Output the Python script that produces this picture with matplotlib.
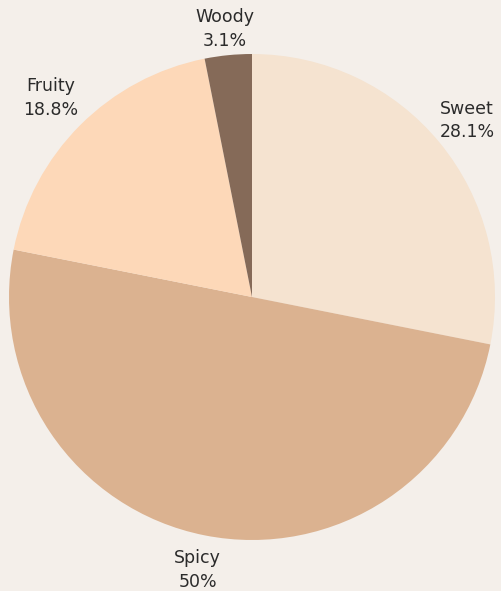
import matplotlib
matplotlib.use("Agg")
import matplotlib.pyplot as plt

categories = ["Sweet", "Spicy", "Fruity", "Woody"]
values = [9, 16, 6, 1]
pct_labels = ["28.1%", "50%", "18.8%", "3.1%"]
colors = ["#F5E3D0", "#DBB290", "#FDD8B8", "#856A58"]
bg = "#F4EFEA"

fig = plt.figure(figsize=(5.02, 5.91), dpi=100, facecolor=bg)
ax = fig.add_axes([9/502, 51/591, 486/502, 486/591])
ax.set_facecolor(bg)
labels = [f"{c}\n{p}" for c, p in zip(categories, pct_labels)]
wedges, texts = ax.pie(values, labels=labels, colors=colors, startangle=90,
                       counterclock=False, labeldistance=1.145, radius=1,
                       textprops=dict(fontsize=12.5, color="#2b2b2b", family=["DejaVu Sans"],
                                      linespacing=1.4))
for t in texts:
    t.set_ha("center")
    t.set_va("center")
x, y = texts[3].get_position()
texts[3].set_position((x, y - 0.036))
x, y = texts[2].get_position()
texts[2].set_position((x - 0.02, y + 0.01))
ax.set_xlim(-1, 1)
ax.set_ylim(-1, 1)
ax.set_aspect("equal")
ax.axis("off")
fig.savefig("out.png", dpi=100, facecolor=bg)
